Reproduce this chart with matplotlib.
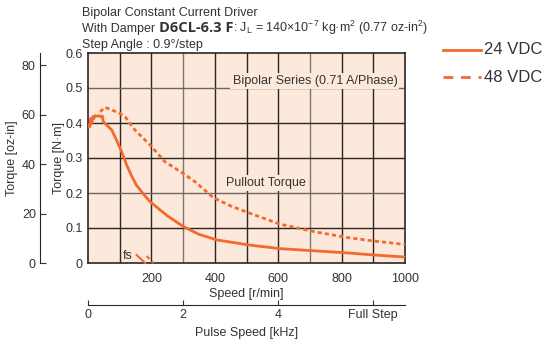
import matplotlib
matplotlib.use('Agg')
import matplotlib.pyplot as plt

plt.rcParams['font.family'] = ['Liberation Sans Narrow', 'Liberation Sans', 'DejaVu Sans']
plt.rcParams['mathtext.default'] = 'regular'

# 24 VDC pullout torque [N·m] vs speed [r/min]
speed_24 = [0, 3, 6, 9, 12, 15, 18, 22, 28, 34, 40, 45, 48, 59, 75, 90, 106, 122, 138, 153,
            175, 196, 250, 301, 350, 406, 511, 606, 711, 816, 900, 1000]
torque_24 = [0.385, 0.395, 0.39, 0.413, 0.40, 0.418, 0.412, 0.421, 0.419, 0.421, 0.418, 0.42,
             0.404, 0.394, 0.38, 0.351, 0.318, 0.28, 0.248, 0.222, 0.197, 0.175, 0.135,
             0.104, 0.082, 0.066, 0.051, 0.041, 0.035, 0.029, 0.023, 0.017]

# 48 VDC
speed_48 = [38, 54, 75, 96, 117, 148, 196, 243, 290, 338, 395, 450, 511, 606, 711, 816, 900, 1000]
torque_48 = [0.432, 0.445, 0.437, 0.43, 0.418, 0.38, 0.337, 0.289, 0.262, 0.232, 0.187,
             0.163, 0.142, 0.111, 0.09, 0.073, 0.063, 0.053]

# starting (fs) segments
fs_24_speed = [153, 180]
fs_24_torque = [0.023, 0.0]
fs_48_speed = [185, 206]
fs_48_torque = [0.02, 0.0]

speed_ticks = [200, 400, 600, 800, 1000]
pulse_ticks = [0, 300, 600, 900]
pulse_labels = ['0', '2', '4', 'Full Step']
nm_ticks = [0, 0.1, 0.2, 0.3, 0.4, 0.5, 0.6]
oz_ticks = [0, 20, 40, 60, 80]

orange = '#f26a2e'
bg = '#fde8dc'
dark = '#2b2626'
txt = '#333333'

fig = plt.figure(figsize=(5.48, 3.4), dpi=100)
W, H = 548, 340

def box(x0, y0, x1, y1):
    return [x0 / W, 1 - y1 / H, (x1 - x0) / W, (y1 - y0) / H]

ax = fig.add_axes(box(88, 53, 405, 263))
ax.set_facecolor(bg)
ax.set_xlim(0, 1000)
ax.set_ylim(0, 0.6)

# grid
for v in range(100, 1000, 100):
    c = '#7d7474' if v in (300, 700) else dark
    ax.axvline(v, color=c, lw=1.0, zorder=1)
for h in [0.1, 0.2, 0.3, 0.4, 0.5]:
    c = '#6e6666' if h in (0.2, 0.5) else dark
    ax.axhline(h, color=c, lw=1.0, zorder=1)

ax.plot(speed_24, torque_24, color=orange, lw=2.0, zorder=3, solid_capstyle='butt')
ax.plot(speed_48, torque_48, color=orange, lw=2.0, ls=(0, (1.5, 1.1)), zorder=3)
ax.plot(fs_24_speed, fs_24_torque, color=orange, lw=1.5, zorder=3, clip_on=False)
ax.plot(fs_48_speed, fs_48_torque, color=orange, lw=1.5, ls=(0, (2, 1.5)), zorder=3, clip_on=False)
ax.text(142, 0.02, 'fs', ha='right', va='center', fontsize=9, color=txt, zorder=4)

ax.text(716, 0.52, 'Bipolar Series (0.71 A/Phase)', ha='center', va='center', fontsize=9,
        color=txt, zorder=4, bbox=dict(facecolor=bg, edgecolor='none', pad=1.5))
ax.text(561, 0.229, 'Pullout Torque', ha='center', va='center', fontsize=9,
        color=txt, zorder=4, bbox=dict(facecolor=bg, edgecolor='none', pad=1.5))

ax.set_xticks(speed_ticks)
ax.set_yticks(nm_ticks)
ax.set_yticklabels(['0', '0.1', '0.2', '0.3', '0.4', '0.5', '0.6'])
ax.tick_params(axis='both', length=0, labelsize=9, colors=txt)
ax.tick_params(axis='x', pad=7)
ax.tick_params(axis='y', pad=4)
for s in ax.spines.values():
    s.set_color(dark)
    s.set_linewidth(1.2)
ax.set_xlabel('Speed [r/min]', fontsize=9, color=txt, labelpad=2)
ax.set_ylabel('Torque [N·m]', fontsize=9, color=txt, labelpad=0)

# oz-in axis
ax2 = fig.add_axes(box(40, 53, 41, 263))
ax2.set_facecolor('none')
ax2.set_ylim(0, 0.6 * 141.612)
ax2.set_xticks([])
ax2.set_yticks(oz_ticks)
for k in ('top', 'right', 'bottom'):
    ax2.spines[k].set_visible(False)
ax2.spines['left'].set_color(dark)
ax2.tick_params(axis='y', direction='in', length=4, labelsize=9, colors=txt, pad=3)
ax2.set_ylabel('Torque [oz-in]', fontsize=9, color=txt, labelpad=3)

# pulse speed axis
ax3 = fig.add_axes(box(88, 295, 405, 305))
ax3.set_facecolor('none')
ax3.set_xlim(0, 1000)
ax3.set_yticks([])
for k in ('top', 'right', 'left'):
    ax3.spines[k].set_visible(False)
ax3.spines['bottom'].set_color(dark)
ax3.set_xticks(pulse_ticks)
ax3.set_xticklabels(pulse_labels)
ax3.tick_params(axis='x', direction='in', length=3.5, labelsize=9, colors=txt, pad=3)
ax3.set_xlabel('Pulse Speed [kHz]', fontsize=9, color=txt, labelpad=4)

# header lines (pieces placed side by side on a common baseline)
fig.text(82 / W, 1 - 16 / H, 'Bipolar Constant Current Driver', fontsize=9, color=txt, va='baseline')
fig.text(82 / W, 1 - 48 / H, 'Step Angle : 0.9°/step', fontsize=9, color=txt, va='baseline')

renderer = fig.canvas.get_renderer()
x = 82
y = 1 - 32 / H
pieces = [
    ('With Damper ', dict(fontsize=9)),
    ('D6CL-6.3 F', dict(fontsize=10.5, fontweight='bold', family=['Open Sans', 'DejaVu Sans'])),
    (': J$_{L}$ = 140×10$^{−7}$ kg·m$^{2}$ (0.77 oz-in$^{2}$)', dict(fontsize=9)),
]
for s, kw in pieces:
    t = fig.text(x / W, y, s, color=txt, va='baseline', **kw)
    x += t.get_window_extent(renderer).width

# legend
fig.add_artist(plt.Line2D([443 / W, 481 / W], [1 - 50 / H, 1 - 50 / H], color=orange, lw=2.0))
fig.add_artist(plt.Line2D([443 / W, 481 / W], [1 - 77 / H, 1 - 77 / H], color=orange, lw=2.0,
                          ls=(0, (3.5, 2.8))))
fig.text(484 / W, 1 - 50 / H, '24 VDC', fontsize=12, color=txt, va='center')
fig.text(484 / W, 1 - 77 / H, '48 VDC', fontsize=12, color=txt, va='center')

fig.savefig('out.png', dpi=100)
